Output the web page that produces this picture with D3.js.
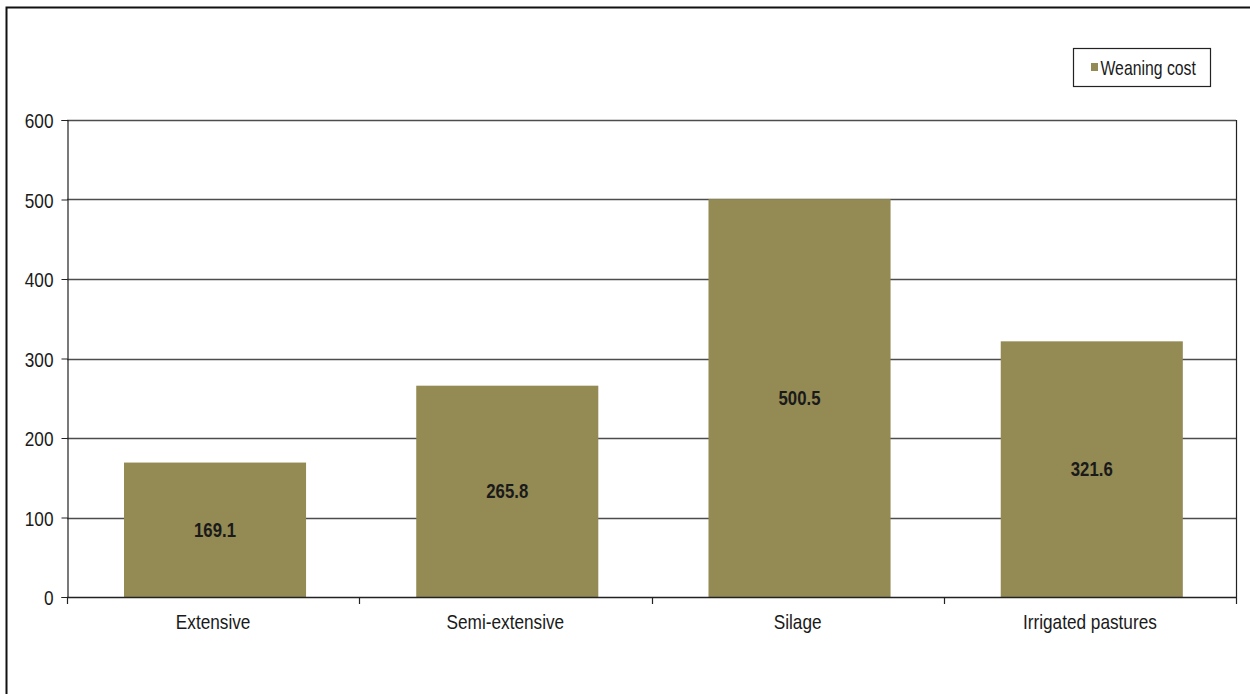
<!DOCTYPE html>
<html>
<head>
<meta charset="utf-8">
<script src="https://cdn.jsdelivr.net/npm/d3@7"></script>
<style>
  html, body { margin: 0; padding: 0; background: #fff; }
  svg { display: block; }
  text { font-family: "Liberation Sans", Arial, sans-serif; fill: #1a1a1a; }
</style>
</head>
<body>
<svg id="chart" width="1250" height="694"></svg>
<script>
// Weaning cost per production system
const categories = ["Extensive", "Semi-extensive", "Silage", "Irrigated pastures"];
const weaningCost = [169.1, 265.8, 500.5, 321.6];
const yTicks = [0, 100, 200, 300, 400, 500, 600];
const seriesName = "Weaning cost";

const svg = d3.select("#chart");
const W = 1250, H = 694;
const plot = { left: 67, right: 1236, top: 120, bottom: 597 };
const barColor = "#948a54";
const gridColor = "#4d4d4d";

// Condensed look: place text with a transform and squeeze it horizontally
function narrowText(sel, sx, xFn, yFn) {
  sel.attr("x", null).attr("y", null)
     .attr("transform", (d, i) => `translate(${xFn(d, i)},${yFn(d, i)}) scale(${sx},1)`);
}

// Outer chart frame (top and left edges visible)
svg.append("path")
  .attr("d", `M6.5,${H + 5} V7.5 H${W + 5}`)
  .attr("fill", "none").attr("stroke", "#111").attr("stroke-width", 2);

const xOuter = d3.scaleBand().domain(categories).range([plot.left, plot.right]).padding(0);
const barFrac = 0.623, barOffsetFrac = 0.195;
const barX = d => xOuter(d) + xOuter.bandwidth() * barOffsetFrac;
const barW = () => xOuter.bandwidth() * barFrac;
const y = d3.scaleLinear().domain([0, 600]).range([plot.bottom, plot.top]);

// Horizontal gridlines
svg.append("g").selectAll("line").data(yTicks.filter(t => t > 0)).join("line")
  .attr("x1", plot.left).attr("x2", plot.right)
  .attr("y1", d => Math.round(y(d)) + 0.5).attr("y2", d => Math.round(y(d)) + 0.5)
  .attr("stroke", gridColor).attr("stroke-width", 1.3);

// Plot area right edge
svg.append("line")
  .attr("x1", plot.right + 0.5).attr("x2", plot.right + 0.5)
  .attr("y1", plot.top).attr("y2", plot.bottom)
  .attr("stroke", "#222").attr("stroke-width", 1.2);

// Bars
svg.append("g").selectAll("rect").data(categories).join("rect")
  .attr("x", d => barX(d))
  .attr("width", barW())
  .attr("y", (d, i) => y(weaningCost[i]))
  .attr("height", (d, i) => y(0) - y(weaningCost[i]))
  .attr("fill", barColor);

// Value labels centred in each bar
svg.append("g").selectAll("text").data(categories).join("text")
  .attr("dy", "0.35em")
  .attr("text-anchor", "middle")
  .attr("font-size", 20)
  .attr("font-weight", "bold")
  .attr("fill", "#111")
  .text((d, i) => weaningCost[i].toFixed(1))
  .call(narrowText, 0.84, d => barX(d) + barW() / 2, (d, i) => (y(weaningCost[i]) + y(0)) / 2);

// Y axis
const yAxis = svg.append("g")
  .attr("transform", `translate(${plot.left + 0.5},0)`)
  .call(d3.axisLeft(y).tickValues(yTicks).tickSize(6).tickPadding(8).tickFormat(d3.format("d")));
yAxis.select(".domain").attr("stroke", "#222").attr("stroke-width", 1.2);
yAxis.selectAll(".tick line").attr("stroke", "#222");
yAxis.selectAll(".tick text")
  .attr("font-size", 21).attr("fill", "#1a1a1a").attr("dy", "0.36em")
  .style("font-family", '"Liberation Sans", Arial, sans-serif')
  .call(narrowText, 0.82, () => -14, () => 0);

// X axis: ticks at category boundaries, labels centred under bars
const boundaries = categories.map(c => xOuter(c)).concat([plot.right]);
const xg = svg.append("g");
xg.append("line")
  .attr("x1", plot.left).attr("x2", plot.right + 1)
  .attr("y1", plot.bottom + 0.5).attr("y2", plot.bottom + 0.5)
  .attr("stroke", "#222").attr("stroke-width", 1.4);
xg.selectAll("line.tk").data(boundaries).join("line").attr("class", "tk")
  .attr("x1", d => Math.round(d) + 0.5).attr("x2", d => Math.round(d) + 0.5)
  .attr("y1", plot.bottom).attr("y2", plot.bottom + 7)
  .attr("stroke", "#222").attr("stroke-width", 1.2);
xg.selectAll("text").data(categories).join("text")
  .attr("text-anchor", "middle")
  .attr("font-size", 21)
  .text(d => d)
  .call(narrowText, 0.82, d => xOuter(d) + xOuter.bandwidth() / 2, () => plot.bottom + 32);

// Legend
const lg = svg.append("g").attr("transform", "translate(1073.5,48.5)");
lg.append("rect").attr("width", 137).attr("height", 38)
  .attr("fill", "#fff").attr("stroke", "#222").attr("stroke-width", 1.2);
lg.append("rect").attr("x", 17.5).attr("y", 14.5).attr("width", 7).attr("height", 8).attr("fill", barColor);
lg.append("text").attr("dy", "0.35em")
  .attr("font-size", 20).text(seriesName)
  .call(narrowText, 0.79, () => 27, () => 19);
</script>
</body>
</html>
